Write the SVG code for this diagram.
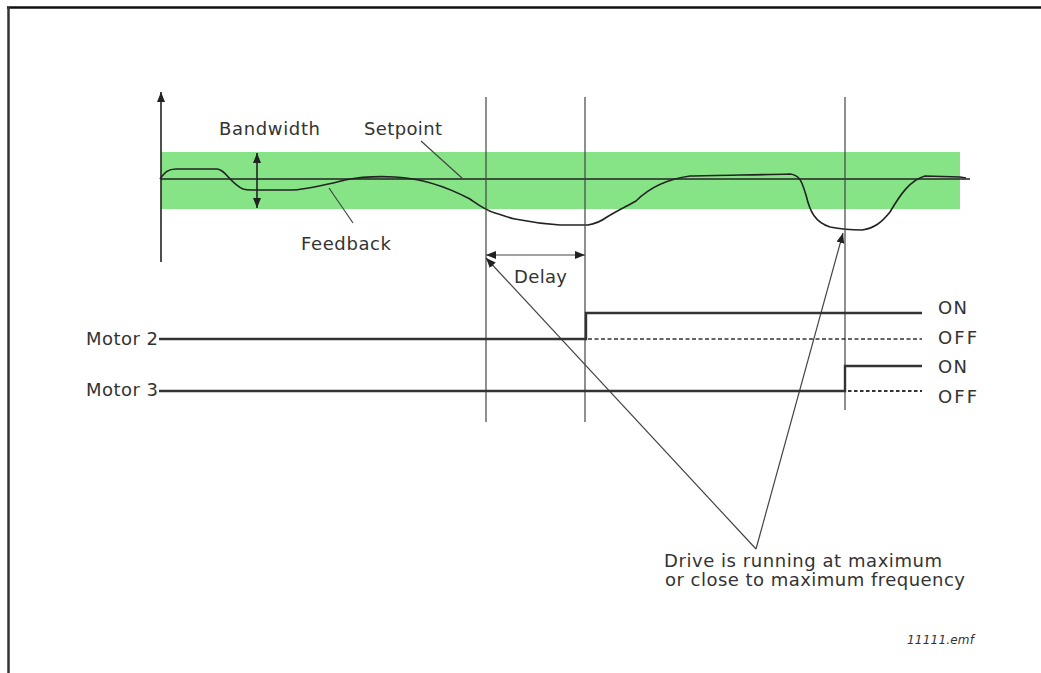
<svg xmlns="http://www.w3.org/2000/svg" width="1041" height="673" viewBox="0 0 1041 673">
<style>
text{font-family:"DejaVu Sans","Liberation Sans",sans-serif;font-size:18px;fill:#333}
.thin{stroke:#444;stroke-width:1.2;fill:none}
.curve{stroke:#222;stroke-width:1.6;fill:none}
.motor{stroke:#333;stroke-width:2.4;fill:none}
.dot{stroke:#333;stroke-width:1.6;stroke-dasharray:4 2.5;fill:none}
.dot3{stroke:#333;stroke-width:2.2;stroke-dasharray:3.5 2.5;fill:none}
</style>
<defs>
<marker id="ah" viewBox="0 0 10 8" refX="10" refY="4" markerWidth="10" markerHeight="8" markerUnits="userSpaceOnUse" orient="auto-start-reverse">
<path d="M0,0 L10,4 L0,8 Z" fill="#222"/>
</marker>
</defs>
<rect width="1041" height="673" fill="#fff"/>
<g id="frame">
<line x1="7" y1="7.5" x2="1041" y2="7.5" stroke="#111" stroke-width="2.5"/>
<line x1="8.5" y1="7" x2="8.5" y2="673" stroke="#333" stroke-width="2.5"/>
</g>
<g id="band">
<rect x="161" y="152" width="799" height="57" fill="#86e487"/>
</g>
<g id="axes">
<line class="curve" x1="161" y1="262" x2="161" y2="92" marker-end="url(#ah)"/>
<line x1="161" y1="179" x2="970" y2="179" stroke="#222" stroke-width="1.6"/>
</g>
<g id="feedback">
<path class="curve" d="M160,179 C165,172 168,169 176,169 L217,169 C225,169 230,183 243,189 C246,190 248,190 252,190 L293,190 C310,189 325,185 345,180 C360,177 375,176 395,177 C420,178 445,186 470,199 C480,206 485,210 495,213 C505,216 510,218 515,219 C530,222 545,224 560,225 L588,225 C595,224 600,222 607,217 C615,212 625,207 636,201 C645,192 660,180 690,176 C720,175 760,175 790,174 C800,175 802,182 806,195 C810,212 815,222 830,227 C840,229 850,230 862,230 C875,228 882,222 890,212 C900,195 910,180 925,176 L960,177 L966,178"/>
</g>
<g id="connectors">
<line class="curve" x1="257" y1="153" x2="257" y2="208" marker-start="url(#ah)" marker-end="url(#ah)"/>
<line class="thin" x1="421" y1="141" x2="463" y2="179"/>
<line class="thin" x1="329" y1="188" x2="353" y2="223"/>
<line class="thin" x1="486" y1="97" x2="486" y2="422"/>
<line class="thin" x1="585" y1="97" x2="585" y2="422"/>
<line class="thin" x1="845" y1="97" x2="845" y2="410"/>
<line class="thin" x1="486" y1="255" x2="585" y2="255" marker-start="url(#ah)" marker-end="url(#ah)"/>
<line class="thin" x1="756" y1="549" x2="486" y2="258" marker-end="url(#ah)"/>
<line class="thin" x1="756" y1="549" x2="843" y2="233" marker-end="url(#ah)"/>
</g>
<g id="motor2">
<path class="motor" d="M159,339 L586,339 L586,313 L922,313"/>
<line class="dot" x1="588" y1="339" x2="922" y2="339"/>
</g>
<g id="motor3">
<path class="motor" d="M159,391 L845,391 L845,366 L922,366"/>
<line class="dot3" x1="848" y1="391" x2="922" y2="391"/>
</g>
<g id="labels">
<text x="219" y="135" textLength="101" lengthAdjust="spacing">Bandwidth</text>
<text x="364" y="135" textLength="78" lengthAdjust="spacing">Setpoint</text>
<text x="301" y="250" textLength="90" lengthAdjust="spacing">Feedback</text>
<text x="514" y="283" textLength="53" lengthAdjust="spacing">Delay</text>
<text x="86" y="345" textLength="72" lengthAdjust="spacing">Motor 2</text>
<text x="86" y="396" textLength="72" lengthAdjust="spacing">Motor 3</text>
<text x="938" y="314" textLength="29" lengthAdjust="spacing">ON</text>
<text x="938" y="344" textLength="39" lengthAdjust="spacing">OFF</text>
<text x="938" y="373" textLength="29" lengthAdjust="spacing">ON</text>
<text x="938" y="403" textLength="39" lengthAdjust="spacing">OFF</text>
<text x="664" y="567" textLength="278" lengthAdjust="spacing">Drive is running at maximum</text>
<text x="665" y="586" textLength="300" lengthAdjust="spacing">or close to maximum frequency</text>
<text x="907" y="644" style="font-size:12px;font-style:italic" textLength="67" lengthAdjust="spacing">11111.emf</text>
</g>
</svg>
